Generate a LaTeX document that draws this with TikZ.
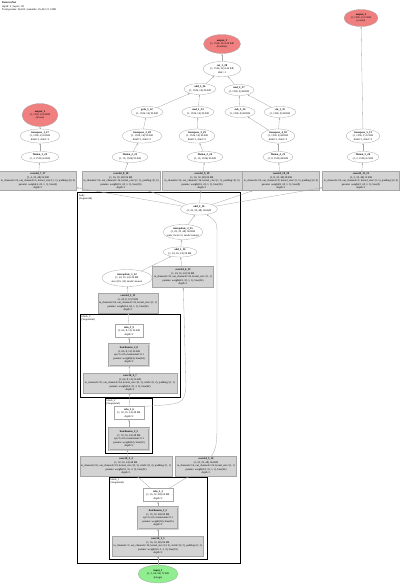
\documentclass[tikz,border=0pt]{standalone}
\usepackage{fontspec}
\setmainfont{Liberation Serif}
\usepackage{tikz}
\usetikzlibrary{shapes.geometric, arrows.meta, calc}
\usepackage{xcolor}
\definecolor{outred}{RGB}{240,128,128}
\definecolor{ingreen}{RGB}{144,238,144}
\definecolor{boxgray}{RGB}{211,211,211}

\begin{document}
\begin{tikzpicture}[x=1pt, y=-1pt]

        % 1. Styles for the graph
        \tikzset{
            every node/.style={font=\fontsize{2.7}{3.35}\selectfont, align=center},
            sz/.style 2 args={minimum width=#1pt, minimum height=#2pt},
            op/.style={ellipse, draw=gray!70, line width=0.3pt, fill=white, inner xsep=-4pt, inner ysep=-0.5pt},
            outnode/.style={op, fill=outred},
            innode/.style={op, fill=ingreen},
            layer/.style={rectangle, draw=gray!70, fill=boxgray, line width=0.3pt, inner sep=0.5pt},
            normlayer/.style={layer, double=boxgray, double distance=0.7pt},
            leaf/.style={rectangle, draw=gray!70, fill=white, line width=0.3pt, inner sep=0.5pt},
            cluster/.style={draw=black, line width=0.8pt},
            clusterlabel/.style={anchor=north west, align=left, inner sep=0.5pt},
            edge/.style={draw=gray!70, line width=0.3pt, -{Stealth[length=2pt, width=1.6pt]}}
        }

        % 2. Fix the page size
        \useasboundingbox (0,0) rectangle (400,584);

        % 3. Title block
        \node[anchor=north west, align=left, inner sep=0pt] (title) at (2,2)
            {\textbf{DetectorNet}\\depth: 2 | layers: 38\\Total params: 26,452 | trainable: 26,452 | 0.1 MB};

        % 4. Clusters (drawn first, so the nodes sit on top)
        \draw[cluster] (77,192) rectangle (240,563);
        \draw[cluster] (80,314) rectangle (180,397);
        \draw[cluster] (105,398) rectangle (152,453);
        \draw[cluster] (109,477) rectangle (207,559);

        % 5. Input and stem
        \node[innode, sz={40}{18}] (in) at (158,574) {\textbf{input\_1}\\(1, 3, 64, 96) 72 KB\\(image)};
        \node[layer, sz={91}{20}] (convone) at (158,546) {\textbf{conv2d\_1\_1}\\(1, 16, 32, 48) 96 KB\\in\_channels=3, out\_channels=16, kernel\_size=(3, 3), stride=(2, 2), padding=(1, 1)\\params: weight(16, 3, 3, 3), bias(16)\\depth=2};
        \node[normlayer, sz={40}{22}] (bnone) at (158,518) {\textbf{batchnorm\_1\_2}\\(1, 16, 32, 48) 96 KB\\eps=1e-05, momentum=0.1\\params: weight(16), bias(16)\\depth=2};
        \node[leaf, sz={30}{13}] (reluone) at (158,495) {\textbf{relu\_1\_3}\\(1, 16, 32, 48) 96 KB\\depth=2};

        % 6. Two branches after the stem
        \node[layer, sz={92}{20}] (convtwo) at (126,466) {\textbf{conv2d\_2\_4}\\(1, 32, 16, 24) 48 KB\\in\_channels=16, out\_channels=32, kernel\_size=(3, 3), stride=(2, 2), padding=(1, 1)\\params: weight(32, 16, 3, 3), bias(32)\\depth=1};
        \node[layer, sz={61}{20}] (convthree) at (206,466) {\textbf{conv2d\_3\_10}\\(1, 24, 32, 48) 144 KB\\in\_channels=16, out\_channels=24, kernel\_size=(1, 1)\\params: weight(24, 16, 1, 1), bias(24)\\depth=1};

        \node[normlayer, sz={40}{22}] (bntwo) at (129,439) {\textbf{batchnorm\_2\_5}\\(1, 32, 16, 24) 48 KB\\eps=1e-05, momentum=0.1\\params: weight(32), bias(32)\\depth=2};
        \node[leaf, sz={30}{13}] (relutwo) at (129,413) {\textbf{relu\_2\_6}\\(1, 32, 16, 24) 48 KB\\depth=2};

        \node[layer, sz={94}{20}] (convfour) at (130,383) {\textbf{conv2d\_4\_7}\\(1, 64, 8, 12) 24 KB\\in\_channels=32, out\_channels=64, kernel\_size=(3, 3), stride=(2, 2), padding=(1, 1)\\params: weight(64, 32, 3, 3), bias(64)\\depth=2};
        \node[normlayer, sz={40}{22}] (bnthree) at (129,355) {\textbf{batchnorm\_3\_8}\\(1, 64, 8, 12) 24 KB\\eps=1e-05, momentum=0.1\\params: weight(64), bias(64)\\depth=2};
        \node[leaf, sz={28}{13}] (reluthree) at (129,331) {\textbf{relu\_3\_9}\\(1, 64, 8, 12) 24 KB\\depth=2};

        % 7. Top-down merge
        \node[layer, sz={60}{20}] (convfive) at (128,303) {\textbf{conv2d\_5\_11}\\(1, 24, 8, 12) 9 KB\\in\_channels=64, out\_channels=24, kernel\_size=(1, 1)\\params: weight(24, 64, 1, 1), bias(24)\\depth=1};
        \node[layer, sz={61}{21}] (convsix) at (183,277) {\textbf{conv2d\_6\_13}\\(1, 24, 16, 24) 36 KB\\in\_channels=32, out\_channels=24, kernel\_size=(1, 1)\\params: weight(24, 32, 1, 1), bias(24)\\depth=1};
        \node[op, sz={50}{17}] (interpone) at (127,278) {\textbf{interpolate\_1\_12}\\(1, 24, 16, 24) 36 KB\\size=(16, 24), mode=nearest};
        \node[op, sz={34}{10}] (addone) at (180,252) {\textbf{add\_1\_14}\\(1, 24, 16, 24) 36 KB};
        \node[op, sz={40}{15}] (interptwo) at (183,232) {\textbf{interpolate\_2\_15}\\(1, 24, 32, 48) 144 KB\\scale\_factor=2, mode=nearest};
        \node[op, sz={37}{12}] (addtwo) at (199,209) {\textbf{add\_2\_16}\\(1, 24, 32, 48) 144 KB};

        % 8. Heads: conv, flatten, transpose
        \node[layer, sz={77}{19}] (hdone) at (38,181) {\textbf{conv2d\_7\_17}\\(1, 4, 32, 48) 24 KB\\in\_channels=24, out\_channels=4, kernel\_size=(1, 1), padding=(0, 0)\\params: weight(4, 24, 1, 1), bias(4)\\depth=1};
        \node[layer, sz={78}{19}] (hdtwo) at (121,181) {\textbf{conv2d\_8\_18}\\(1, 16, 32, 48) 96 KB\\in\_channels=24, out\_channels=16, kernel\_size=(1, 1), padding=(0, 0)\\params: weight(16, 24, 1, 1), bias(16)\\depth=1};
        \node[layer, sz={80}{19}] (hdthree) at (202,181) {\textbf{conv2d\_9\_19}\\(1, 16, 32, 48) 96 KB\\in\_channels=24, out\_channels=16, kernel\_size=(1, 1), padding=(0, 0)\\params: weight(16, 24, 1, 1), bias(16)\\depth=1};
        \node[layer, sz={77}{19}] (hdfour) at (281,181) {\textbf{conv2d\_10\_20}\\(1, 8, 32, 48) 48 KB\\in\_channels=24, out\_channels=8, kernel\_size=(1, 1), padding=(0, 0)\\params: weight(8, 24, 1, 1), bias(8)\\depth=1};
        \node[layer, sz={77}{19}] (hdfive) at (361,181) {\textbf{conv2d\_11\_21}\\(1, 2, 32, 48) 12 KB\\in\_channels=24, out\_channels=2, kernel\_size=(1, 1), padding=(0, 0)\\params: weight(2, 24, 1, 1), bias(2)\\depth=1};

        \node[op, sz={38}{11}] (flone) at (40,157) {\textbf{flatten\_1\_22}\\(1, 4, 1536) 24 KB};
        \node[op, sz={36}{11}] (fltwo) at (130,157) {\textbf{flatten\_2\_23}\\(1, 16, 1536) 96 KB};
        \node[op, sz={36}{11}] (flthree) at (205,157) {\textbf{flatten\_3\_24}\\(1, 16, 1536) 96 KB};
        \node[op, sz={30}{11}] (flfour) at (278,157) {\textbf{flatten\_4\_25}\\(1, 8, 1536) 48 KB};
        \node[op, sz={32}{11}] (flfive) at (363,157) {\textbf{flatten\_5\_26}\\(1, 2, 1536) 12 KB};

        \node[op, sz={40}{14}] (trone) at (40,136) {\textbf{transpose\_1\_27}\\(1, 1536, 4) 24 KB\\dim0=1, dim1=2};
        \node[op, sz={40}{14}] (trtwo) at (142,136) {\textbf{transpose\_2\_28}\\(1, 1536, 16) 96 KB\\dim0=1, dim1=2};
        \node[op, sz={36}{14}] (trthree) at (197,136) {\textbf{transpose\_3\_29}\\(1, 1536, 16) 96 KB\\dim0=1, dim1=2};
        \node[op, sz={34}{14}] (trfour) at (278,136) {\textbf{transpose\_4\_30}\\(1, 1536, 8) 48 KB\\dim0=1, dim1=2};
        \node[op, sz={34}{14}] (trfive) at (363,136) {\textbf{transpose\_5\_31}\\(1, 1536, 2) 12 KB\\dim0=1, dim1=2};

        % 9. Post-processing and outputs
        \node[op, sz={32}{11}] (gelu) at (147,112) {\textbf{gelu\_1\_32}\\(1, 1536, 16) 96 KB};
        \node[op, sz={32}{11}] (mulone) at (198,112) {\textbf{mul\_1\_33}\\(1, 1536, 16) 96 KB};
        \node[op, sz={30}{11}] (sub) at (240,112) {\textbf{sub\_1\_34}\\(1, 1536, 8) 48 KB};
        \node[op, sz={32}{11}] (sin) at (280,112) {\textbf{sin\_1\_35}\\(1, 1536, 8) 48 KB};
        \node[op, sz={32}{11}] (addthree) at (200,89) {\textbf{add\_3\_36}\\(1, 1536, 16) 96 KB};
        \node[op, sz={30}{11}] (multwo) at (239,90) {\textbf{mul\_2\_37}\\(1, 1536, 8) 48 KB};
        \node[op, sz={38}{15}] (cat) at (222,69) {\textbf{cat\_1\_38}\\(1, 1536, 24) 144 KB\\dim=-1};

        \node[outnode, sz={36}{23}] (outone) at (40,115) {\textbf{output\_1}\\(1, 1536, 4) 24 KB\\(boxes)};
        \node[outnode, sz={37}{19}] (outtwo) at (222,44) {\textbf{output\_2}\\(1, 1536, 24) 144 KB\\(features)};
        \node[outnode, sz={34}{17}] (outthree) at (361,18) {\textbf{output\_3}\\(1, 1536, 2) 12 KB\\(scores)};

        % 10. Cluster labels (on top of everything)
        \node[clusterlabel] (bodylbl) at (78.5,193.5) {body\\(Sequential)};
        \node[clusterlabel] (blkthreelbl) at (81,315) {block\_3\\(Sequential)};
        \node[clusterlabel] (blktwolbl) at (106,399) {block\_2\\(Sequential)};
        \node[clusterlabel] (blkonelbl) at (110,478) {block\_1\\(Sequential)};

        % 11. Bend points for the long connectors
        \coordinate (bendA) at (217,432);
        \coordinate (bendB) at (217,236);
        \coordinate (bendC) at (186,386);

        % 12. Connectors
        \draw[edge] (in) -- (convone);
        \draw[edge] (convone) -- (bnone);
        \draw[edge] (bnone) -- (reluone);
        \draw[edge] (reluone) -- (convtwo);
        \draw[edge] (reluone) -- (convthree);
        \draw[edge] (convtwo) -- (bntwo);
        \draw[edge] (bntwo) -- (relutwo);
        \draw[edge] (relutwo) -- (convfour);
        \draw[edge] (convfour) -- (bnthree);
        \draw[edge] (bnthree) -- (reluthree);
        \draw[edge] (reluthree) -- (convfive);
        \draw[edge] (convfive) -- (interpone);
        \draw[edge] (interpone) -- (addone);
        \draw[edge] (relutwo.north east) .. controls (184,404) .. (bendC) -- (convsix);
        \draw[edge] (convsix) -- (addone);
        \draw[edge] (addone) -- (interptwo);
        \draw[edge] (interptwo) -- (addtwo);
        \draw[edge] (convthree) .. controls (216,448) .. (bendA) -- (bendB) .. controls (217,222) .. (addtwo);

        \foreach \hd/\fl/\tr in {hdone/flone/trone, hdtwo/fltwo/trtwo, hdthree/flthree/trthree, hdfour/flfour/trfour, hdfive/flfive/trfive} {
            \draw[edge] (addtwo) -- (\hd);
            \draw[edge] (\hd) -- (\fl);
            \draw[edge] (\fl) -- (\tr);
        }

        \draw[edge] (trone) -- (outone);
        \draw[edge] (trtwo) -- (gelu);
        \draw[edge] (trthree) -- (mulone);
        \draw[edge] (trfour) -- (sub);
        \draw[edge] (trfour) -- (sin);
        \draw[edge] (trfive) -- (outthree);
        \draw[edge] (gelu) -- (addthree);
        \draw[edge] (mulone) -- (addthree);
        \draw[edge] (sub) -- (multwo);
        \draw[edge] (sin) -- (multwo);
        \draw[edge] (addthree) -- (cat);
        \draw[edge] (multwo) -- (cat);
        \draw[edge] (cat) -- (outtwo);

    \end{tikzpicture}
\end{document}
